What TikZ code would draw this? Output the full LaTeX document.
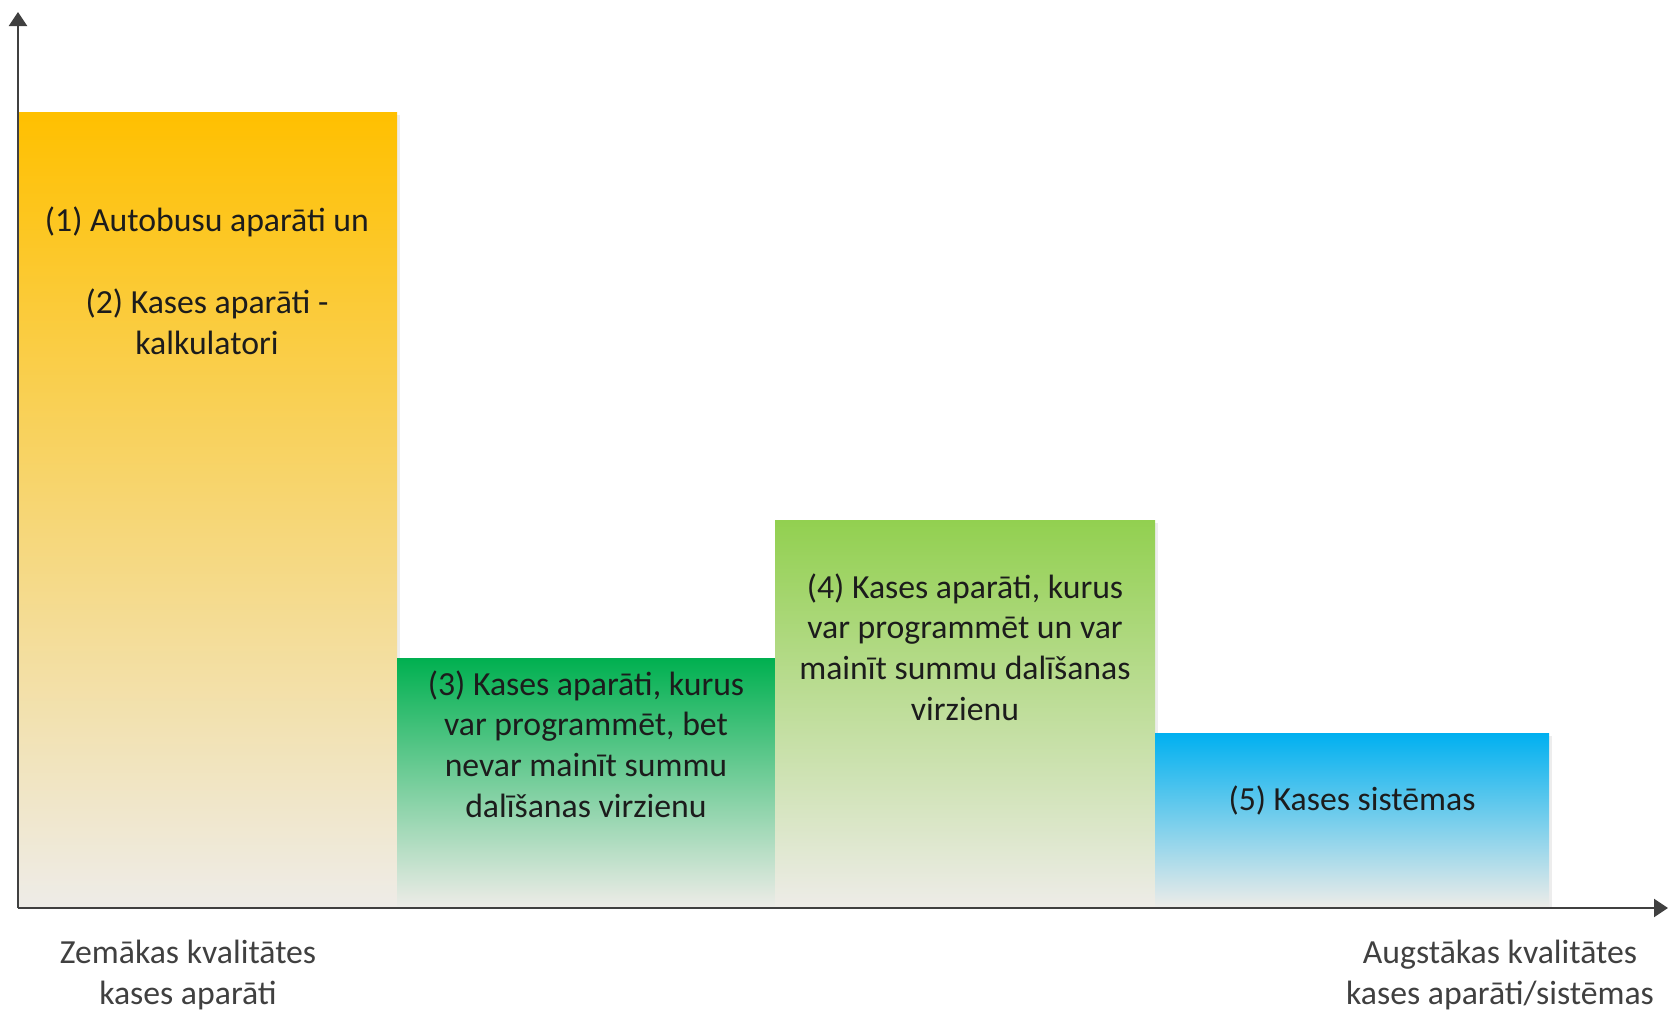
\documentclass[tikz,border=0pt]{standalone}
\usepackage{fontspec}
\setmainfont{Carlito}
\usetikzlibrary{arrows.meta}
\definecolor{barOrange}{RGB}{255,192,0}
\definecolor{barGreen}{RGB}{0,176,80}
\definecolor{barLime}{RGB}{146,208,80}
\definecolor{barBlue}{RGB}{0,176,240}
\definecolor{barBase}{RGB}{238,236,232}
\definecolor{axisGray}{RGB}{64,64,64}
\definecolor{textDark}{RGB}{28,28,28}
\begin{document}
\begin{tikzpicture}[>={Triangle[length=1.4mm,width=1.8mm]},
bar/.style={bottom color=barBase},
barshadow/.style={fill=black!7},
label/.style={align=center, text=textDark, font=\fontsize{9.6}{11.6}\selectfont},
axis/.style={->, axisGray, line width=0.6pt}]
\useasboundingbox (0,0) rectangle (16.68,10.12);
%%%%%%%% SHADOWS %%%%%%%%
\fill[barshadow] (0.21,1.04) rectangle (4.00,8.97);
\fill[barshadow] (7.78,1.04) rectangle (11.58,4.89);
\fill[barshadow] (11.58,1.04) rectangle (15.52,2.76);
%%%%%%%% BARS %%%%%%%%
\shade[bar, top color=barOrange] (0.18,1.04) rectangle (3.97,9.00);
\shade[bar, top color=barGreen] (3.97,1.04) rectangle (7.75,3.54);
\shade[bar, top color=barLime] (7.75,1.04) rectangle (11.55,4.92);
\shade[bar, top color=barBlue] (11.55,1.04) rectangle (15.49,2.79);
%%%%%%%% AXES %%%%%%%%
\coordinate (O) at (0.18,1.04);
\coordinate (Ytop) at (0.18,10.0);
\coordinate (Xend) at (16.68,1.04);
\draw[axis] (O)--(Ytop);
\draw[axis] (O)--(Xend);
%%%%%%%% TEXT %%%%%%%%
\node[label] (t12) at (2.07,7.31) {(1) Autobusu aparāti un\\[11.7pt](2) Kases aparāti -\\kalkulatori};
\node[label] (t3) at (5.86,2.68) {(3) Kases aparāti, kurus\\var programmēt, bet\\nevar mainīt summu\\dalīšanas virzienu};
\node[label] (t4) at (9.65,3.65) {(4) Kases aparāti, kurus\\var programmēt un var\\mainīt summu dalīšanas\\virzienu};
\node[label] (t5) at (13.52,2.12) {(5) Kases sistēmas};
\node[label, text=axisGray] (low) at (1.88,0.37) {Zemākas kvalitātes\\kases aparāti};
\node[label, text=axisGray] (high) at (15.0,0.37) {Augstākas kvalitātes\\kases aparāti/sistēmas};
\end{tikzpicture}
\end{document}
